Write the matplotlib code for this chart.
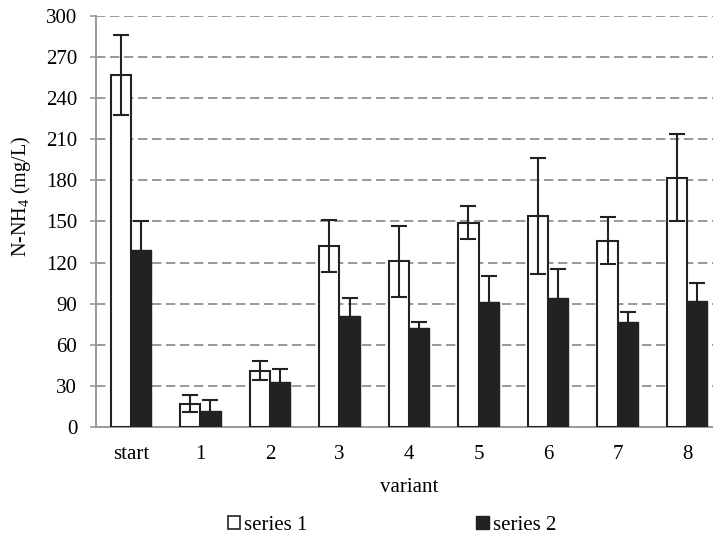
import matplotlib
matplotlib.use("Agg")
import matplotlib.pyplot as plt
import numpy as np
from matplotlib.patches import Patch

categories = ["start", "1", "2", "3", "4", "5", "6", "7", "8"]
series1 = [257, 17, 41, 132, 121, 149, 154, 136, 182]
series1_err = [29, 6, 7, 19, 26, 12, 42, 17, 32]
series2 = [129, 12, 33, 81, 72, 91, 94, 77, 92]
series2_err = [21, 8, 9, 13, 5, 19, 21, 7, 13]
yticks = [0, 30, 60, 90, 120, 150, 180, 210, 240, 270, 300]

plt.rcParams['font.family'] = ['Liberation Serif', 'DejaVu Serif']
plt.rcParams['mathtext.fontset'] = 'custom'
plt.rcParams['mathtext.rm'] = 'Liberation Serif'

fig = plt.figure(figsize=(7.13, 5.36), dpi=100)
W, H = 713, 536
left, right, top, bottom = 96, 722, 16, 427
ax = fig.add_axes([left / W, 1 - bottom / H, (right - left) / W, (bottom - top) / H])

x = np.arange(len(categories))
bw = 0.29
ekw = dict(ecolor='#222222', elinewidth=1.5, capsize=5.5, capthick=1.5)
ax.bar(x - bw / 2, series1, bw, color='white', edgecolor='#222222', linewidth=1.5,
       yerr=series1_err, error_kw=ekw, zorder=3)
ax.bar(x + bw / 2, series2, bw, color='#222222', edgecolor='#222222', linewidth=1.0,
       yerr=series2_err, error_kw=ekw, zorder=3)

ax.set_xlim(-0.5, len(categories) - 0.5)
ax.set_ylim(0, 300)
ax.set_yticks(yticks)
ax.set_xticks(x)
ax.set_xticklabels(categories)
ax.yaxis.grid(True, linestyle=(0, (4.8, 2.4)), color='#999999', linewidth=1.4, zorder=0)
ax.set_axisbelow(True)

for s in ['top', 'right']:
    ax.spines[s].set_visible(False)
for s in ['left', 'bottom']:
    ax.spines[s].set_color('#999999')
    ax.spines[s].set_linewidth(1.4)
ax.tick_params(axis='y', length=4.5, width=1.2, color='#999999', labelsize=15, pad=9)
ax.tick_params(axis='x', length=0, labelsize=15, pad=13)

ax.set_ylabel('N-NH$_4$ (mg/L)', fontsize=14.5)
ax.yaxis.set_label_coords(-0.100, 0.56)
ax.set_xlabel('variant', fontsize=15, labelpad=10)

handles = [Patch(facecolor='white', edgecolor='#222222', linewidth=1.2, label='series 1'),
           Patch(facecolor='#222222', edgecolor='#222222', label='series 2')]
fig.legend(handles=handles, loc='center', bbox_to_anchor=(392 / W, 1 - 525 / H), ncol=2,
           frameon=False, fontsize=15, handlelength=0.6, handleheight=0.6,
           handletextpad=0.2, columnspacing=8.1, borderpad=0)

fig.savefig('out.png', dpi=100)
